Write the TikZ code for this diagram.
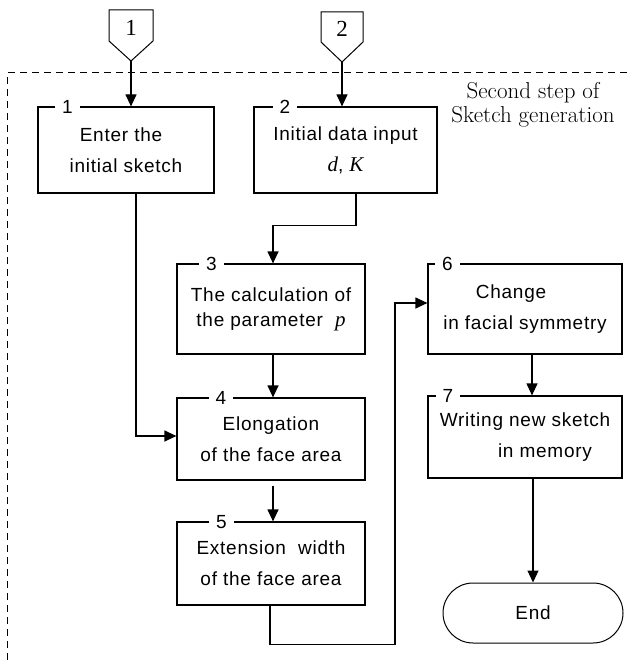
\documentclass[tikz,border=0pt]{standalone}
\usepackage{fontspec}
\newfontfamily\boxfont[LetterSpace=4]{Liberation Sans}
\newfontfamily\numfont{Liberation Sans}
\newfontfamily\connfont{Liberation Serif}
\newcommand\myvar[1]{{\connfont\itshape\fontsize{21}{21}\selectfont #1}}
\usetikzlibrary{arrows.meta,shapes.misc}
\begin{document}
\begin{tikzpicture}[x=1pt,y=-1pt,
  line width=1.2pt,
  box/.style={draw, rectangle, inner sep=0pt, align=center,
    font=\boxfont\fontsize{19}{31}\selectfont},
  numlab/.style={fill=white, inner xsep=7pt, inner ysep=0pt,
    font=\numfont\fontsize{19}{19}\selectfont},
  connshape/.style={draw, line width=1pt},
  connlab/.style={inner sep=0pt, font=\connfont\fontsize{23}{23}\selectfont},
  arr/.style={draw, -{Triangle[length=12pt,width=11pt]}},
  frame/.style={draw, line width=1pt, dash pattern=on 7pt off 5pt},
  titlefont/.style={align=center, inner sep=0pt, font=\fontsize{23}{24}\selectfont},
  endbox/.style={draw, rounded rectangle, line width=1pt, minimum width=180, minimum height=60,
    inner sep=0pt, font=\boxfont\fontsize{19}{19}\selectfont}]
\useasboundingbox (0,0) rectangle (631,660);

% dashed frame
\draw[frame] (7,660) -- (7,73) -- (631,73);
\node[titlefont] (title) at (533,105) {Second step of\\Sketch generation};

% off-page connectors
\draw[connshape] (109,10) -- (153,10) -- (153,41) -- (131,61) -- (109,41) -- cycle;
\node[connlab] (c1) at (131,28) {1};
\coordinate (c1tip) at (131,61);
\draw[connshape] (321,12) -- (363,12) -- (363,42) -- (342,62) -- (321,42) -- cycle;
\node[connlab] (c2) at (342,29) {2};
\coordinate (c2tip) at (342,62);

% boxes
\node[box, minimum width=176, minimum height=86] (b1) at (126,150)
  {Enter the\hspace*{10pt}\\initial sketch};
\node[box, minimum width=183, minimum height=86] (b2) at (345.5,150)
  {Initial data input\\\myvar{d},\ \myvar{K}};
\node[box, minimum width=188, minimum height=90] (b3) at (271,309)
  {The calculation of\\[-6pt]the parameter\ \ \myvar{p}};
\node[box, minimum width=188, minimum height=82] (b4) at (271,439)
  {Elongation\\of the face area};
\node[box, minimum width=188, minimum height=83] (b5) at (271,563.5)
  {Extension\ \ width\\of the face area};
\node[box, minimum width=194, minimum height=90] (b6) at (525,309)
  {Change\hspace*{28pt}\\in facial symmetry};
\node[box, minimum width=194, minimum height=82] (b7) at (525,437)
  {Writing new sketch\\\hspace*{40pt}in memory};
\node[endbox] (end) at (533,613) {End};

% box numbers
\node[numlab] (l1) at (67.5,107) {1};
\node[numlab] (l2) at (285,107) {2};
\node[numlab] (l3) at (211.5,264) {3};
\node[numlab] (l4) at (221,398) {4};
\node[numlab] (l5) at (221.5,522) {5};
\node[numlab] (l6) at (447.5,264) {6};
\node[numlab] (l7) at (448,396) {7};

% connectors
\draw[arr] (c1tip) -- (c1tip |- b1.north);
\draw[arr] (c2tip) -- (c2tip |- b2.north);
\draw[arr] ([xshift=10.5pt]b2.south) -- ++(0,32) -| ([xshift=2pt]b3.north);
\draw[arr] ([xshift=10pt]b1.south) |- ([yshift=3pt]b4.west);
\draw[arr] ([xshift=2pt]b3.south) -- ([xshift=2pt]b4.north);
\draw[arr] ([xshift=2pt,yshift=-5pt]b4.south) -- ([xshift=2pt]b5.north);
\draw[arr] ([xshift=-1pt]b5.south) -- ++(0,39) -- ++(125,0) |- ([yshift=6pt]b6.west);
\draw[arr] ([xshift=7pt]b6.south) -- ([xshift=7pt]b7.north);
\draw[arr] (b7.south -| end.north) -- (end.north);
\end{tikzpicture}
\end{document}
